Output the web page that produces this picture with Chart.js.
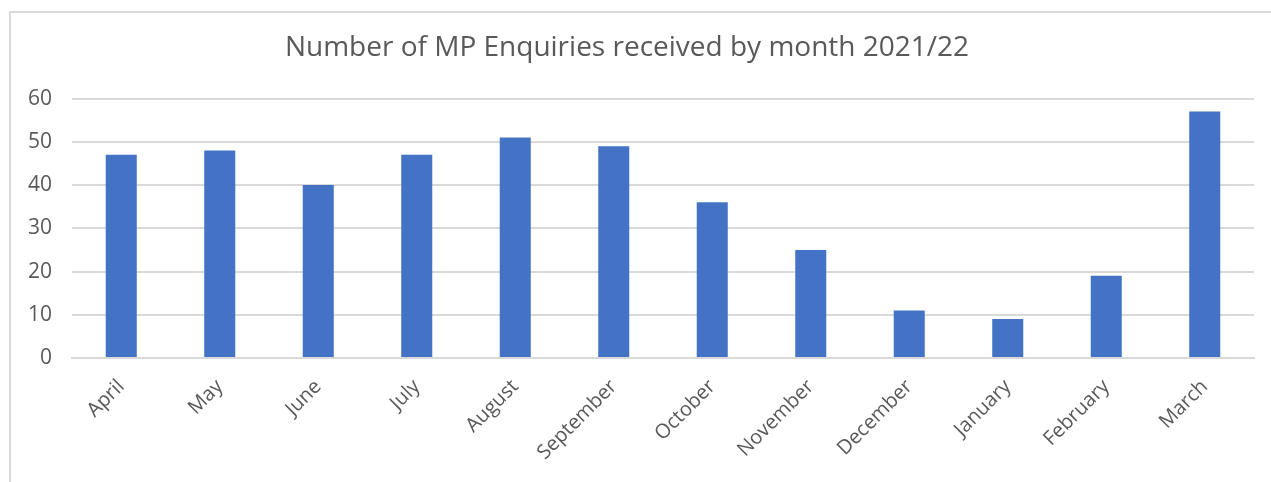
<!DOCTYPE html>
<html>
<head>
<meta charset="utf-8">
<script src="https://cdn.jsdelivr.net/npm/chart.js@4"></script>
<style>
  html, body { margin: 0; padding: 0; background: #fff; overflow: hidden; }
  #frame {
    position: absolute; left: 9px; top: 11px; width: 1300px; height: 520px;
    border: 2px solid #d9d9d9; box-sizing: border-box;
  }
  #wrap { position: absolute; left: 0; top: 0; width: 1271px; height: 482px; }
</style>
</head>
<body>
<div id="frame"></div>
<div id="wrap"><canvas id="enquiriesChart"></canvas></div>
<script>
"use strict"

//data
const months = ["April", "May", "June", "July", "August", "September", "October",
  "November", "December", "January", "February", "March"];
const enquiries = [47, 48, 40, 47, 51, 49, 36, 25, 11, 9, 19, 57];
const yTicks = [0, 10, 20, 30, 40, 50, 60];

const textGrey = "#595959";
const fontFamily = "'Open Sans', 'Noto Sans', sans-serif";

const ctx = document.getElementById("enquiriesChart").getContext("2d");

const enquiriesChart = new Chart(ctx, {
  type: "bar",
  data: {
    labels: months,
    datasets: [{
      label: "Enquiries",
      data: enquiries,
      backgroundColor: "#4472C4",
      borderWidth: 0,
      barPercentage: 0.315,
      categoryPercentage: 1
    }]
  },
  options: {
    responsive: true,
    maintainAspectRatio: false,
    animation: false,
    layout: {
      padding: { left: 0, right: 17, top: 0, bottom: 0 }
    },
    plugins: {
      legend: { display: false },
      tooltip: { enabled: false },
      title: {
        display: true,
        text: "Number of MP Enquiries received by month 2021/22",
        color: textGrey,
        font: { family: fontFamily, size: 28, weight: "normal" },
        padding: { top: 31, bottom: 34 }
      }
    },
    scales: {
      x: {
        grid: { display: false, drawTicks: false },
        border: { display: true, color: "#d9d9d9", width: 2 },
        ticks: {
          color: textGrey,
          font: { family: fontFamily, size: 20 },
          maxRotation: 45,
          minRotation: 45,
          padding: 17,
          autoSkip: false
        },
        afterFit: function(scale) { scale.height = 124; }
      },
      y: {
        min: 0,
        max: 60,
        afterBuildTicks: function(scale) {
          scale.ticks = yTicks.map(v => ({ value: v }));
        },
        grid: { color: "#d9d9d9", lineWidth: 2, drawTicks: false },
        border: { display: false },
        ticks: {
          color: textGrey,
          font: { family: fontFamily, size: 21 },
          padding: 20
        },
        afterFit: function(scale) { scale.width = 72; }
      }
    }
  }
});
</script>
</body>
</html>
